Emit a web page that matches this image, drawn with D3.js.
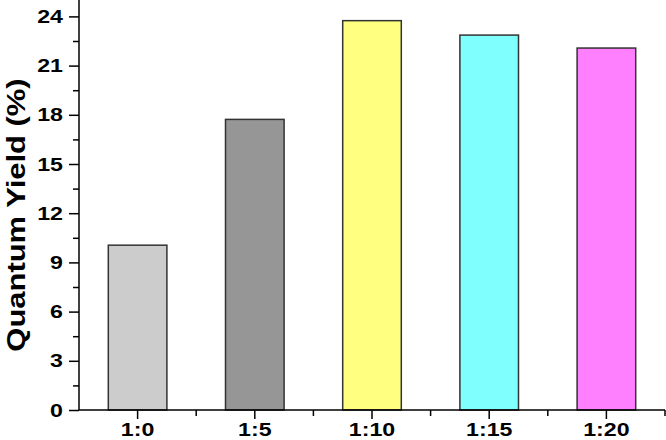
<!DOCTYPE html>
<html><head><meta charset="utf-8">
<script src="https://cdn.jsdelivr.net/npm/d3@7"></script>
<style>html,body{margin:0;padding:0;background:#fff;}svg{display:block;}</style>
</head><body>
<svg id="chart" width="666" height="440"></svg>
<script>
const categories = ["1:0", "1:5", "1:10", "1:15", "1:20"];
const values = [10.05, 17.72, 23.74, 22.86, 22.07];
const colors = ["#cccccc", "#969696", "#ffff80", "#80ffff", "#ff80ff"];
const yTicks = [0, 3, 6, 9, 12, 15, 18, 21, 24];
const yMinorTicks = [1.5, 4.5, 7.5, 10.5, 13.5, 16.5, 19.5, 22.5];
const yLabel = "Quantum Yield (%)";

const svg = d3.select("#chart");
const mLeft = 79, mRight = 665, mTop = 0, mBottom = 410;
const font = "Arial, 'Liberation Sans', sans-serif";

function stretch(sel, s) {
  sel.each(function () {
    const w = this.getComputedTextLength();
    d3.select(this).attr("textLength", w * s).attr("lengthAdjust", "spacingAndGlyphs");
  });
}

const x = d3.scaleBand().domain(categories).range([mLeft, mRight]).paddingInner(0.5).paddingOuter(0.25);
const y = d3.scaleLinear().domain([0, 25]).range([mBottom, mTop]);

// bars
svg.append("g").selectAll("rect").data(categories).join("rect")
  .attr("x", d => x(d))
  .attr("width", x.bandwidth())
  .attr("y", (d, i) => y(values[i]))
  .attr("height", (d, i) => y(0) - y(values[i]))
  .attr("fill", (d, i) => colors[i])
  .attr("stroke", "#333")
  .attr("stroke-width", 1.5);

// y axis
const yAxis = svg.append("g").attr("transform", `translate(${mLeft},0)`)
  .call(d3.axisLeft(y).tickValues(yTicks).tickSize(10).tickPadding(6).tickFormat(d3.format("d")));
yAxis.select(".domain").attr("d", `M0,${mBottom}V${mTop}`);
svg.append("g").attr("transform", `translate(${mLeft},0)`)
  .call(d3.axisLeft(y).tickValues(yMinorTicks).tickSize(6).tickFormat(""))
  .select(".domain").remove();

// x axis
const xAxis = svg.append("g").attr("transform", `translate(0,${mBottom})`)
  .call(d3.axisBottom(x).tickSize(9).tickPadding(4));
xAxis.select(".domain").attr("d", `M${mLeft},0H${mRight}`);
const step = x.step();
const xMinor = categories.map(c => x(c) + x.bandwidth() / 2 + step / 2);
svg.append("g").attr("transform", `translate(0,${mBottom})`).selectAll("line").data(xMinor).join("line")
  .attr("x1", d => d).attr("x2", d => d).attr("y1", 0).attr("y2", 6)
  .attr("stroke", "#000").attr("stroke-width", 1.5);

svg.selectAll(".tick line").attr("stroke", "#000").attr("stroke-width", 1.5);
svg.selectAll(".domain").attr("stroke", "#000").attr("stroke-width", 1.5);
svg.selectAll(".tick text").attr("font-family", font).attr("font-weight", "bold")
  .attr("font-size", 19).attr("fill", "#000");
stretch(svg.selectAll(".tick text"), 1.22);

// y label
const lab = svg.append("text")
  .attr("transform", `translate(25,215) rotate(-90)`)
  .attr("text-anchor", "middle")
  .attr("font-family", font).attr("font-weight", "bold").attr("font-size", 26)
  .text(yLabel);
stretch(lab, 1.19);
</script>
</body></html>
